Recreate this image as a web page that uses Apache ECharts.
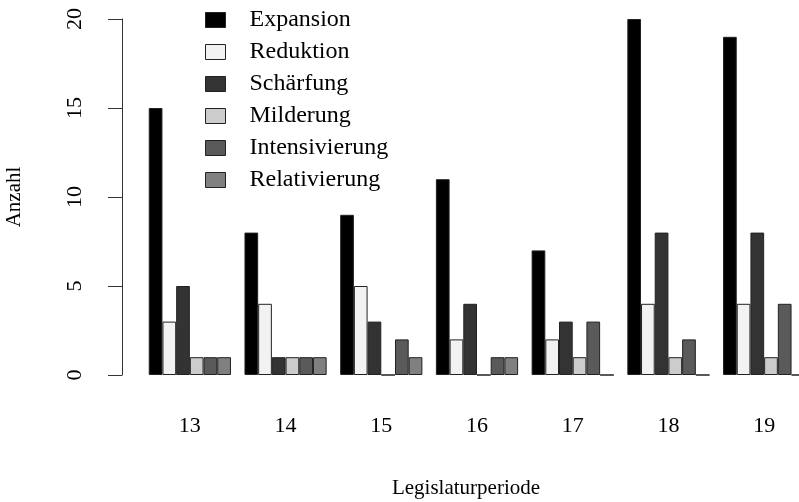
<!DOCTYPE html>
<html>
<head>
<meta charset="utf-8">
<script src="https://cdn.jsdelivr.net/npm/echarts@6/dist/echarts.min.js"></script>
<style>
  html, body { margin: 0; padding: 0; background: #fff; overflow: hidden; }
  /* the original figure is cut at the right edge, so the canvas is wider than the window */
  #chart { width: 830px; height: 502px; }
</style>
</head>
<body>
<div id="chart"></div>
<script>
const periods = ['13', '14', '15', '16', '17', '18', '19'];
const seriesNames = ['Expansion', 'Reduktion', 'Schärfung', 'Milderung', 'Intensivierung', 'Relativierung'];
const expansion      = [15, 8, 9, 11, 7, 20, 19];
const reduktion      = [3, 4, 5, 2, 2, 4, 4];
const schaerfung     = [5, 1, 3, 4, 3, 8, 8];
const milderung      = [1, 1, 0, 0, 1, 1, 1];
const intensivierung = [1, 1, 2, 1, 3, 2, 4];
const relativierung  = [1, 1, 1, 1, 0, 0, 0];
const yTicks = [0, 5, 10, 15, 20];

const FONT = '"Liberation Serif", "DejaVu Serif", serif';
const fills = ['#000000', '#f2f2f2', '#333333', '#cccccc', '#5a5a5a', '#808080'];
const values = [expansion, reduktion, schaerfung, milderung, intensivierung, relativierung];

var myChart = echarts.init(document.getElementById('chart'));

// one series per category, bars side by side without gaps (like R barplot beside=TRUE)
const series = seriesNames.map(function (name, i) {
    return {
        name: name,
        type: 'bar',
        data: values[i],
        barWidth: 13.7,
        barGap: '0%',
        itemStyle: { color: fills[i], borderColor: '#222', borderWidth: 1 },
        emphasis: { disabled: true }
    };
});

option = {
    animation: false,
    textStyle: { fontFamily: FONT },
    grid: { left: 142, top: 19, width: 670, height: 356, containLabel: false, outerBoundsMode: 'none' },
    legend: {
        orient: 'vertical',
        left: 200,
        top: 3,
        itemWidth: 20,
        itemHeight: 15,
        itemGap: 8,
        icon: 'rect',
        selectedMode: false,
        data: seriesNames.map(function (n, i) {
            return { name: n, itemStyle: { color: fills[i], borderColor: '#222', borderWidth: 1 } };
        }),
        textStyle: { fontFamily: FONT, fontSize: 24, color: '#000', lineHeight: 24, padding: [0, 0, 0, 19] }
    },
    xAxis: {
        type: 'category',
        data: periods,
        axisLine: { show: false },
        axisTick: { show: false },
        axisLabel: { fontFamily: FONT, fontSize: 22, color: '#000', margin: 40 },
        name: 'Legislaturperiode',
        nameLocation: 'middle',
        nameGap: 103,
        nameTextStyle: { fontFamily: FONT, fontSize: 21, color: '#000', padding: [0, 22, 0, 0] }
    },
    yAxis: {
        type: 'value',
        min: 0,
        max: 20,
        interval: 5,
        offset: 20,
        splitLine: { show: false },
        axisLine: { show: true, lineStyle: { color: '#333', width: 1 } },
        axisTick: { show: true, length: 14, lineStyle: { color: '#333', width: 1 } },
        axisLabel: {
            fontFamily: FONT, fontSize: 22, color: '#000', rotate: 90, margin: 36,
            formatter: function (v) { return yTicks.indexOf(v) >= 0 ? String(v) : ''; }
        },
        name: 'Anzahl',
        nameLocation: 'middle',
        nameRotate: 90,
        nameGap: 97,
        nameTextStyle: { fontFamily: FONT, fontSize: 21, color: '#000' }
    },
    series: series
};

myChart.setOption(option, true);
</script>
</body>
</html>
